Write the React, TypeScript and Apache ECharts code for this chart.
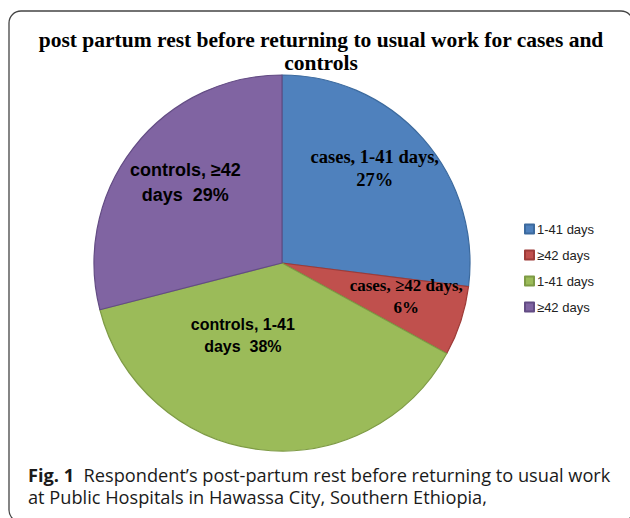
import React, { useEffect, useRef } from "react";
import * as echarts from "echarts";

const titleText = "post partum rest before returning to usual work for cases and\ncontrols";
const sliceKeys = ["cases_short", "cases_long", "controls_short", "controls_long"];
const legendLabels = ["1-41 days", "≥42 days", "1-41 days", "≥42 days"];
const sliceValues = [27, 6, 38, 29];
const sliceLabels = [
  "cases, 1-41 days,\n27%",
  "cases, ≥42 days,\n6%",
  "controls, 1-41\ndays  38%",
  "controls, ≥42\ndays  29%",
];
const sliceColors = ["#4F81BD", "#C0504D", "#9BBB59", "#8064A2"];
const sliceBorders = ["#3C6A9E", "#9E3B38", "#7E9B45", "#634C84"];
const captionBold = "Fig. 1";
const captionLine1 = "  Respondent’s post-partum rest before returning to usual work";
const captionLine2 = "at Public Hospitals in Hawassa City, Southern Ethiopia,";

const labelFonts = [
  { fontFamily: "Liberation Serif", fontSize: 18.5, lineHeight: 23 },
  { fontFamily: "Liberation Serif", fontSize: 17, lineHeight: 22 },
  { fontFamily: "Liberation Sans", fontSize: 16, lineHeight: 22 },
  { fontFamily: "Liberation Sans", fontSize: 18, lineHeight: 25 },
];
const labelShift = [
  [20, -30],
  [32, 4],
  [-27, -24],
  [-20, -21],
];

export default function App() {
  const ref = useRef<HTMLDivElement>(null);
  useEffect(() => {
    if (!ref.current) return;
    const chart = echarts.init(ref.current, null, { renderer: "svg" });
    const nameMap: Record<string, string> = {};
    sliceKeys.forEach((k, i) => (nameMap[k] = legendLabels[i]));
    chart.setOption({
      animation: false,
      backgroundColor: "#ffffff",
      title: [
        {
          text: titleText,
          left: 316,
          textAlign: "center",
          top: 23,
          textStyle: {
            fontFamily: "Liberation Serif",
            fontWeight: "bold",
            fontSize: 21.5,
            lineHeight: 23,
            color: "#000",
          },
        },
        {
          text: `{b|${captionBold}}{r|${captionLine1}}\n{r|${captionLine2}}`,
          left: 23,
          top: 459,
          textStyle: {
            fontWeight: "normal",
            rich: {
              b: { fontFamily: "Open Sans", fontWeight: "bold", fontSize: 18.2, lineHeight: 22, color: "#1a1a1a" },
              r: { fontFamily: "Open Sans", fontWeight: "normal", fontSize: 18.2, lineHeight: 22, color: "#1a1a1a" },
            },
          },
        },
      ],
      legend: {
        orient: "vertical",
        left: 519,
        top: 217,
        itemWidth: 9,
        itemHeight: 9,
        itemGap: 12,
        icon: "rect",
        selectedMode: false,
        data: sliceKeys,
        formatter: (n: string) => nameMap[n] ?? n,
        textStyle: { fontFamily: "Liberation Sans", fontSize: 13, lineHeight: 14, color: "#222", padding: [0, 0, 0, -2] },
      },
      graphic: [
        {
          type: "rect",
          shape: { x: 9, y: 11, width: 624, height: 511, r: 12 },
          style: { fill: "none", stroke: "#444", lineWidth: 1.3 },
          z: 10,
        },
      ],
      series: [
        {
          type: "pie",
          center: [282, 263],
          radius: 188,
          startAngle: 90,
          clockwise: true,
          labelLine: { show: false },
          data: sliceKeys.map((k, i) => ({
            name: k,
            value: sliceValues[i],
            itemStyle: { color: sliceColors[i], borderColor: sliceBorders[i], borderWidth: 1.2 },
            label: {
              show: true,
              position: "inside",
              formatter: sliceLabels[i],
              color: "#000",
              fontWeight: "bold",
              align: "center",
              ...labelFonts[i],
            },
          })),
          labelLayout: (p: any) => ({ dx: labelShift[p.dataIndex][0], dy: labelShift[p.dataIndex][1] }),
          emphasis: { disabled: true },
        },
      ],
    });
    return () => chart.dispose();
  }, []);
  return <div ref={ref} style={{ position: "fixed", left: 0, top: 0, width: 630, height: 518 }} />;
}
